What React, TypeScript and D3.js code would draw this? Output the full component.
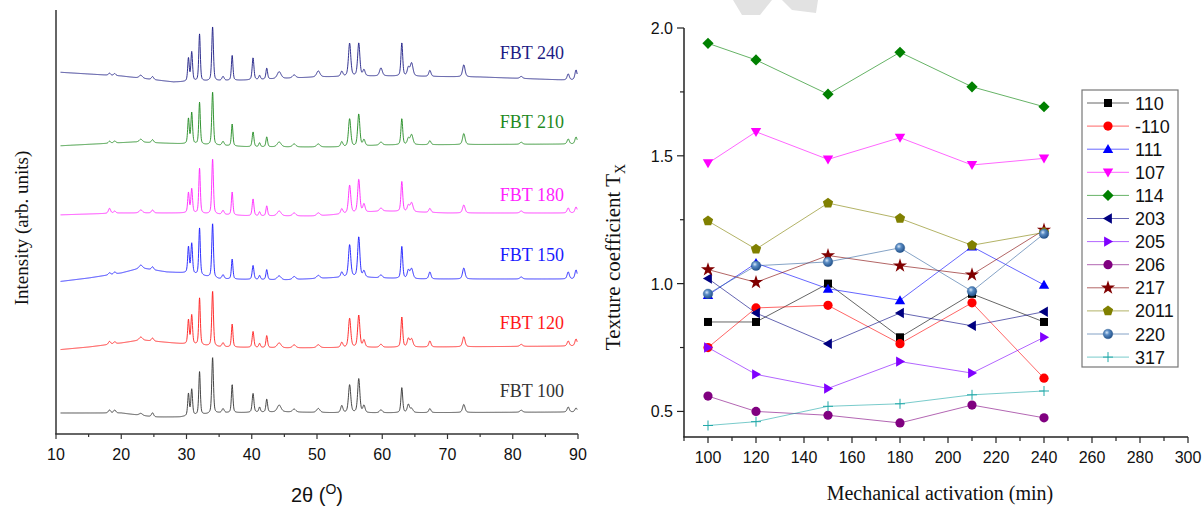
import React from 'react';
import * as d3 from 'd3';

// ---------------- Left panel data (XRD patterns) ----------------
const SAMPLES = ['FBT 100', 'FBT 120', 'FBT 150', 'FBT 180', 'FBT 210', 'FBT 240'];
const SAMPLE_COLORS = ['#333333', '#ff1a1a', '#1a1aff', '#ff22ff', '#1f8a1f', '#1c1c84'];

// peak positions (2θ, degrees) and widths (FWHM, degrees)
const PEAK_POS = [18.2, 19.0, 23.0, 24.8, 30.3, 30.8, 32.0, 34.0, 35.6, 37.0, 40.2, 41.2, 42.3, 44.2, 46.5, 50.2, 53.8, 55.0, 56.4, 57.2, 59.8, 63.0, 64.0, 64.5, 67.3, 72.5, 81.3, 88.5, 89.7];
const PEAK_FWHM = [0.4, 0.4, 0.6, 0.4, 0.28, 0.3, 0.28, 0.3, 0.4, 0.28, 0.32, 0.3, 0.3, 0.7, 0.6, 0.6, 0.4, 0.42, 0.4, 0.4, 0.5, 0.32, 0.4, 0.5, 0.4, 0.45, 0.5, 0.4, 0.4];

// peak heights (arb. units) per sample
const H_FBT100 = [3, 3, 2, 4, 22, 26, 43, 56, 4, 28, 19, 5, 13, 7, 3, 4, 7, 28, 34, 7, 3, 25, 8, 4, 4, 8, 2, 5, 4];
const H_FBT120 = [3, 2, 3, 3, 24, 29, 47, 55, 4, 23, 16, 4, 12, 5, 3, 3, 5, 29, 32, 7, 3, 30, 8, 8, 6, 10, 2, 5, 7];
const H_FBT150 = [2, 2, 3, 3, 26, 30, 47, 54, 4, 20, 14, 4, 10, 4, 3, 3, 5, 32, 40, 6, 3, 32, 8, 10, 7, 11, 2, 7, 9];
const H_FBT180 = [5, 2, 3, 3, 20, 24, 45, 55, 4, 23, 17, 4, 10, 5, 3, 3, 5, 28, 33, 8, 3, 30, 6, 9, 4, 8, 2, 5, 6];
const H_FBT210 = [2, 2, 3, 3, 25, 31, 42, 53, 4, 22, 15, 4, 10, 5, 3, 3, 5, 28, 32, 6, 3, 26, 6, 10, 4, 11, 2, 5, 7];
const H_FBT240 = [2, 2, 3, 3, 23, 29, 47, 54, 4, 25, 22, 4, 11, 7, 3, 6, 5, 33, 33, 6, 8, 33, 8, 13, 6, 12, 2, 6, 10];
const HEIGHTS = [H_FBT100, H_FBT120, H_FBT150, H_FBT180, H_FBT210, H_FBT240];

// background (2θ, intensity) per sample
const BG_FBT100: [number, number][] = [[10, 21], [20, 21], [25, 17], [29, 17], [35, 21], [45, 22], [55, 21], [90, 22]];
const BG_FBT120: [number, number][] = [[10, 84], [15, 87], [20, 91], [23, 94], [28, 91], [35, 87], [45, 86], [90, 88]];
const BG_FBT150: [number, number][] = [[10, 152], [15, 156], [20, 161], [23, 166], [27, 162], [30, 161], [35, 155], [45, 154], [55, 157], [65, 155], [90, 155]];
const BG_FBT180: [number, number][] = [[10, 219], [20, 221], [30, 221], [40, 218], [50, 218], [60, 223], [70, 221], [90, 221]];
const BG_FBT210: [number, number][] = [[10, 288], [22, 292], [30, 290], [40, 287], [55, 287], [60, 289], [90, 290]];
const BG_FBT240: [number, number][] = [[10, 362], [20, 358], [28, 352], [40, 354], [50, 357], [60, 358], [75, 357], [88, 354], [90, 354]];
const BACKGROUNDS = [BG_FBT100, BG_FBT120, BG_FBT150, BG_FBT180, BG_FBT210, BG_FBT240];
const LABEL_LEVELS = [397, 329, 261, 201, 128, 59];

const X_TICKS_L = [10, 20, 30, 40, 50, 60, 70, 80, 90];

// ---------------- Right panel data (texture coefficient) ----------------
const TIMES = [100, 120, 150, 180, 210, 240];
const T_110 = [0.85, 0.85, 1.0, 0.79, 0.96, 0.85];
const T_M110 = [0.75, 0.905, 0.915, 0.765, 0.925, 0.63];
const T_111 = [0.955, 1.08, 0.98, 0.935, 1.145, 0.995];
const T_107 = [1.471, 1.594, 1.486, 1.571, 1.464, 1.49];
const T_114 = [1.94, 1.875, 1.741, 1.905, 1.77, 1.692];
const T_203 = [1.02, 0.885, 0.765, 0.885, 0.835, 0.89];
const T_205 = [0.75, 0.645, 0.59, 0.695, 0.65, 0.79];
const T_206 = [0.56, 0.5, 0.485, 0.455, 0.525, 0.475];
const T_217 = [1.055, 1.005, 1.11, 1.07, 1.035, 1.21];
const T_2011 = [1.245, 1.135, 1.315, 1.255, 1.15, 1.2];
const T_220 = [0.96, 1.07, 1.085, 1.14, 0.97, 1.195];
const T_317 = [0.445, 0.46, 0.52, 0.53, 0.565, 0.58];

const SERIES_NAMES = ['110', '-110', '111', '107', '114', '203', '205', '206', '217', '2011', '220', '317'];
const SERIES_VALUES = [T_110, T_M110, T_111, T_107, T_114, T_203, T_205, T_206, T_217, T_2011, T_220, T_317];
const SERIES_COLORS = ['#000000', '#ff0000', '#0000ff', '#ff00ff', '#008000', '#000080', '#8000ff', '#800080', '#800000', '#808000', '#3366a0', '#20a8a8'];
const SERIES_MARKERS = ['square', 'circle', 'triUp', 'triDown', 'diamond', 'triLeft', 'triRight', 'circle', 'star', 'pentagon', 'sphere', 'plus'];

const Y_TICKS_R = [0.5, 1.0, 1.5, 2.0];
const Y_MINOR_R = [0.75, 1.25, 1.75];
const X_TICKS_R = [100, 120, 140, 160, 180, 200, 220, 240, 260, 280, 300];

const SERIF = '"Liberation Serif", "Times New Roman", serif';
const SANS = '"Liberation Sans", Arial, sans-serif';

function bgAt(bg: [number, number][], t: number) {
  for (let i = 0; i < bg.length - 1; i++) {
    if (t >= bg[i][0] && t <= bg[i + 1][0]) {
      const f = (t - bg[i][0]) / (bg[i + 1][0] - bg[i][0]);
      return bg[i][1] + f * (bg[i + 1][1] - bg[i][1]);
    }
  }
  return bg[bg.length - 1][1];
}

function pattern(k: number): [number, number][] {
  const pts: [number, number][] = [];
  const h = HEIGHTS[k];
  const bg = BACKGROUNDS[k];
  for (let t = 10.7; t <= 89.9; t += 0.03) {
    let v = bgAt(bg, t);
    for (let j = 0; j < PEAK_POS.length; j++) {
      const x = (t - PEAK_POS[j]) / PEAK_FWHM[j];
      const lor = 1 / (1 + 4 * x * x);
      const gau = Math.exp(-4 * Math.LN2 * x * x);
      v += h[j] * (0.45 * lor + 0.55 * gau);
    }
    pts.push([t, v]);
  }
  return pts;
}

function Marker({ type, x, y, color }: { type: string; x: number; y: number; color: string }) {
  const tri = 'M0,-5.6L5.2,3.4L-5.2,3.4Z';
  switch (type) {
    case 'square':
      return <rect x={x - 4} y={y - 4} width={8} height={8} fill={color} />;
    case 'circle':
      return <circle cx={x} cy={y} r={4.6} fill={color} />;
    case 'triUp':
      return <path d={tri} transform={`translate(${x},${y + 0.5})`} fill={color} />;
    case 'triDown':
      return <path d={tri} transform={`translate(${x},${y - 0.5}) rotate(180)`} fill={color} />;
    case 'triLeft':
      return <path d={tri} transform={`translate(${x + 0.5},${y}) rotate(-90)`} fill={color} />;
    case 'triRight':
      return <path d={tri} transform={`translate(${x - 0.5},${y}) rotate(90)`} fill={color} />;
    case 'diamond':
      return <path d="M0,-5.6L5.6,0L0,5.6L-5.6,0Z" transform={`translate(${x},${y})`} fill={color} />;
    case 'star':
      return <path d={d3.symbol(d3.symbolStar, 62)() || ''} transform={`translate(${x},${y})`} fill={color} />;
    case 'pentagon': {
      const r = 5.4;
      const pts = d3.range(5).map((i) => {
        const a = -Math.PI / 2 + (i * 2 * Math.PI) / 5;
        return `${(x + r * Math.cos(a)).toFixed(2)},${(y + r * Math.sin(a)).toFixed(2)}`;
      });
      return <polygon points={pts.join(' ')} fill={color} />;
    }
    case 'sphere':
      return <circle cx={x} cy={y} r={4.8} fill="url(#sphereGrad)" stroke="#2a5a90" strokeWidth={0.4} />;
    case 'plus':
      return (
        <g stroke={color} strokeWidth={1}>
          <line x1={x} y1={y - 5} x2={x} y2={y + 5} />
          <line x1={x - 5} y1={y} x2={x + 5} y2={y} />
        </g>
      );
    default:
      return null;
  }
}

export default function App() {
  // left panel scales
  const xL = d3.scaleLinear().domain([10, 90]).range([56, 578]);
  const yL = d3.scaleLinear().domain([0, 424]).range([434, 10]);
  const lineL = d3
    .line<[number, number]>()
    .x((d) => xL(d[0]))
    .y((d) => yL(d[1]));

  // right panel scales
  const xR = d3.scaleLinear().domain([90, 300]).range([684, 1188]);
  const yR = d3.scaleLinear().domain([0.4, 2.0]).range([437, 28]);
  const lineR = d3
    .line<number>()
    .x((_, i) => xR(TIMES[i]))
    .y((d) => yR(d));

  const minorL = d3.range(15, 90, 10);
  const minorRX = d3.range(90, 300, 20);

  const legX = 1082;
  const legY = 90;
  const rowH = 23.1;

  return (
    <svg
      width={1203}
      height={507}
      style={{ position: 'absolute', left: 0, top: 0, background: '#fff' }}
      xmlns="http://www.w3.org/2000/svg"
    >
      <defs>
        <radialGradient id="sphereGrad" cx="0.38" cy="0.35" r="0.7">
          <stop offset="0" stopColor="#d8e8f8" />
          <stop offset="0.35" stopColor="#5a8cc4" />
          <stop offset="1" stopColor="#1d4c85" />
        </radialGradient>
      </defs>
      <rect x={0} y={0} width={1203} height={507} fill="#fff" />

      {/* faint watermark */}
      <path d="M733,0 L772,0 L760,15 L742,15 Z" fill="#e2e2e2" />
      <path d="M782,0 L818,0 L816,13 L792,10 Z" fill="#e2e2e2" />

      {/* ---------- Left panel ---------- */}
      {SAMPLES.map((s, k) => (
        <path key={s} d={lineL(pattern(k)) || ''} fill="none" stroke={SAMPLE_COLORS[k]} strokeWidth={1} strokeOpacity={0.9} />
      ))}
      {SAMPLES.map((s, k) => (
        <text key={s + 'l'} x={564} y={LABEL_LEVELS[k]} textAnchor="end" fontFamily={SERIF} fontSize={18} fill={SAMPLE_COLORS[k]}>
          {s}
        </text>
      ))}
      <line x1={xL(10)} y1={10} x2={xL(10)} y2={yL(0)} stroke="#333" strokeWidth={1.5} />
      <line x1={xL(10) - 0.75} y1={yL(0)} x2={xL(90)} y2={yL(0)} stroke="#333" strokeWidth={1.5} />
      {X_TICKS_L.map((t) => (
        <g key={t}>
          <line x1={xL(t)} y1={yL(0)} x2={xL(t)} y2={yL(0) + 5} stroke="#333" strokeWidth={1.2} />
          <text x={xL(t)} y={460} textAnchor="middle" fontFamily={SANS} fontSize={16} fill="#111">
            {t}
          </text>
        </g>
      ))}
      {minorL.map((t) => (
        <line key={t} x1={xL(t)} y1={yL(0)} x2={xL(t)} y2={yL(0) + 3} stroke="#333" strokeWidth={1.2} />
      ))}
      <text x={317} y={502} textAnchor="middle" fontFamily={SANS} fontSize={20} fill="#111">
        2θ (<tspan dy={-8} fontSize={14}>O</tspan>
        <tspan dy={8}>)</tspan>
      </text>
      <text transform="translate(28,228) rotate(-90)" textAnchor="middle" fontFamily={SERIF} fontSize={19} fill="#111">
        Intensity (arb. units)
      </text>

      {/* ---------- Right panel ---------- */}
      {SERIES_NAMES.map((n, k) => (
        <g key={n}>
          <path d={lineR(SERIES_VALUES[k]) || ''} fill="none" stroke={SERIES_COLORS[k]} strokeWidth={1} strokeOpacity={0.6} />
          {SERIES_VALUES[k].map((v, i) => (
            <Marker key={i} type={SERIES_MARKERS[k]} x={xR(TIMES[i])} y={yR(v)} color={SERIES_COLORS[k]} />
          ))}
        </g>
      ))}

      <line x1={xR(90)} y1={yR(2.0)} x2={xR(90)} y2={yR(0.4)} stroke="#222" strokeWidth={1.5} />
      <line x1={xR(90) - 0.75} y1={yR(0.4)} x2={xR(300)} y2={yR(0.4)} stroke="#222" strokeWidth={1.5} />
      {Y_TICKS_R.map((t) => (
        <g key={t}>
          <line x1={xR(90)} y1={yR(t)} x2={xR(90) - 7} y2={yR(t)} stroke="#222" strokeWidth={1.2} />
          <text x={673} y={yR(t) + 6} textAnchor="end" fontFamily={SANS} fontSize={16} fill="#111">
            {t.toFixed(1)}
          </text>
        </g>
      ))}
      {Y_MINOR_R.map((t) => (
        <line key={t} x1={xR(90)} y1={yR(t)} x2={xR(90) - 4} y2={yR(t)} stroke="#222" strokeWidth={1.2} />
      ))}
      {X_TICKS_R.map((t) => (
        <g key={t}>
          <line x1={xR(t)} y1={yR(0.4)} x2={xR(t)} y2={yR(0.4) + 6} stroke="#222" strokeWidth={1.2} />
          <text x={xR(t)} y={463} textAnchor="middle" fontFamily={SANS} fontSize={16} fill="#111">
            {t}
          </text>
        </g>
      ))}
      {minorRX.map((t) => (
        <line key={t} x1={xR(t)} y1={yR(0.4)} x2={xR(t)} y2={yR(0.4) + 4} stroke="#222" strokeWidth={1.2} />
      ))}
      <text x={940} y={500} textAnchor="middle" fontFamily={SERIF} fontSize={20} fill="#111">
        Mechanical activation (min)
      </text>
      <text transform="translate(620,257) rotate(-90)" textAnchor="middle" fontFamily={SERIF} fontSize={21} fill="#111">
        Texture coefficient T<tspan dy={5} fontSize={14}>X</tspan>
      </text>

      {/* legend */}
      <rect x={legX} y={legY} width={96} height={277} fill="#fff" stroke="#777" strokeWidth={1.2} />
      {SERIES_NAMES.map((n, k) => {
        const cy = 103 + k * rowH;
        return (
          <g key={n + 'leg'}>
            <line x1={1087} y1={cy} x2={1129} y2={cy} stroke={SERIES_COLORS[k]} strokeWidth={1} strokeOpacity={0.6} />
            <Marker type={SERIES_MARKERS[k]} x={1108} y={cy} color={SERIES_COLORS[k]} />
            <text x={1135} y={cy + 6.5} fontFamily={SANS} fontSize={18} fill="#111">
              {n}
            </text>
          </g>
        );
      })}
    </svg>
  );
}
